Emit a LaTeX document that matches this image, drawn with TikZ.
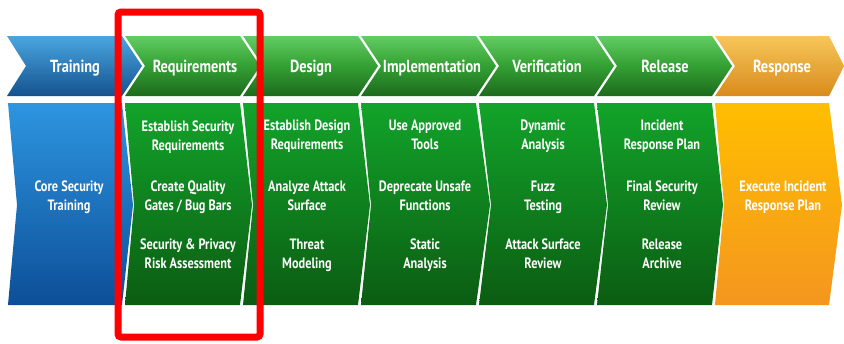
\documentclass[tikz,border=0pt]{standalone}
\usepackage{fontspec}
\setmainfont{PT Sans}
\newfontfamily\labfont[FakeStretch=0.82]{PT Sans}

\definecolor{hiBlue}{HTML}{4AA6E0}
\definecolor{loBlue}{HTML}{14528F}
\definecolor{hiGreen}{HTML}{62CC62}
\definecolor{midGreen}{HTML}{33A033}
\definecolor{loGreen}{HTML}{1D6A1D}
\definecolor{hiOrange}{HTML}{F7C65A}
\definecolor{loOrange}{HTML}{D98B1C}
\definecolor{panBlueTop}{HTML}{2E95E0}
\definecolor{panBlueBot}{HTML}{0C4F98}
\definecolor{panGreenTop}{HTML}{12A42A}
\definecolor{panGreenBot}{HTML}{0B5C12}
\definecolor{panOrangeTop}{HTML}{FFBE00}
\definecolor{panOrangeBot}{HTML}{F4961E}

% phase header chevron: left, right, notch depth, tip depth, style
\newcommand\phasechev[5]{%
  \shade[#5] (#1,36) -- (#2,36) -- ({#2+#4},66) -- (#2,96) -- (#1,96) -- ({#1+#3},66) -- cycle;}
% activity panel below a phase: left, right, notch depth, tip depth, style
\newcommand\phasepanel[5]{%
  \shade[#5] (#1,103) -- (#2,103) -- ({#2+#4},205) -- (#2,305) -- (#1,305) -- ({#1+#3},205) -- cycle;}

\begin{document}
\begin{tikzpicture}[x=1pt,y=-1pt,
  chevblue/.style={top color=hiBlue,bottom color=loBlue},
  chevgreen/.style={top color=hiGreen,bottom color=loGreen,middle color=midGreen},
  chevorange/.style={top color=hiOrange,bottom color=loOrange},
  panblue/.style={top color=panBlueTop,bottom color=panBlueBot},
  pangreen/.style={top color=panGreenTop,bottom color=panGreenBot},
  panorange/.style={top color=panOrangeTop,bottom color=panOrangeBot},
  phaselab/.style={text=white,inner sep=0pt,anchor=base,font=\labfont\bfseries\fontsize{17.5}{20}\selectfont},
  tasklab/.style={text=white,inner sep=0pt,align=center,
    font=\labfont\bfseries\fontsize{15}{19}\selectfont,
    execute at begin node=\strut,execute at end node=\strut},
  focusbox/.style={draw=red,line width=7pt,rounded corners=3pt}]
\useasboundingbox (0,0) rectangle (844,343);
\fill[white] (0,0) rectangle (844,343);

% header chevrons
\phasechev{7}{122}{19}{20}{chevblue}
\phasechev{125}{240}{20}{20}{chevgreen}
\phasechev{243}{358}{20}{20}{chevgreen}
\phasechev{361}{476}{20}{20}{chevgreen}
\phasechev{479}{594}{20}{20}{chevgreen}
\phasechev{597}{712}{20}{20}{chevgreen}
\phasechev{715}{829}{20}{15}{chevorange}

% activity panels
\phasepanel{8}{122}{9}{11}{panblue}
\phasepanel{125}{240}{9}{12}{pangreen}
\phasepanel{243}{358}{10}{12}{pangreen}
\phasepanel{361}{476}{10}{14}{pangreen}
\phasepanel{479}{594}{12}{13}{pangreen}
\phasepanel{597}{712}{11}{11}{pangreen}
\phasepanel{715}{829}{9}{13}{panorange}

% phase names, all on one baseline
\node[phaselab] (p-train) at (75,72) {Training};
\node[phaselab] (p-req)   at (195,72) {Requirements};
\node[phaselab] (p-des)   at (311,72) {Design};
\node[phaselab] (p-imp)   at (432,72) {Implementation};
\node[phaselab] (p-ver)   at (547,72) {Verification};
\node[phaselab] (p-rel)   at (665,72) {Release};
\node[phaselab] (p-resp)  at (782,72) {Response};

% activities
\node[tasklab] (a-train) at (69,198.5) {Core Security\\Training};

\node[tasklab] (a-req1) at (188,138) {Establish Security\\Requirements};
\node[tasklab] (a-req2) at (188,198.5) {Create Quality\\Gates / Bug Bars};
\node[tasklab] (a-req3) at (188,256.5) {Security \& Privacy\\Risk Assessment};

\node[tasklab] (a-des1) at (307,138) {Establish Design\\Requirements};
\node[tasklab] (a-des2) at (307,198.5) {Analyze Attack\\Surface};
\node[tasklab] (a-des3) at (307,256.5) {Threat\\Modeling};

\node[tasklab] (a-imp1) at (425,138) {Use Approved\\Tools};
\node[tasklab] (a-imp2) at (425,198.5) {Deprecate Unsafe\\Functions};
\node[tasklab] (a-imp3) at (425,256.5) {Static\\Analysis};

\node[tasklab] (a-ver1) at (543,138) {Dynamic\\Analysis};
\node[tasklab] (a-ver2) at (543,198.5) {Fuzz\\Testing};
\node[tasklab] (a-ver3) at (543,256.5) {Attack Surface\\Review};

\node[tasklab] (a-rel1) at (662,138) {Incident\\Response Plan};
\node[tasklab] (a-rel2) at (662,198.5) {Final Security\\Review};
\node[tasklab] (a-rel3) at (662,256.5) {Release\\Archive};

\node[tasklab] (a-resp) at (783,198.5) {Execute Incident\\Response Plan};

% highlight around the requirements phase
\draw[focusbox] (118,12) rectangle (260,337);
\end{tikzpicture}
\end{document}
